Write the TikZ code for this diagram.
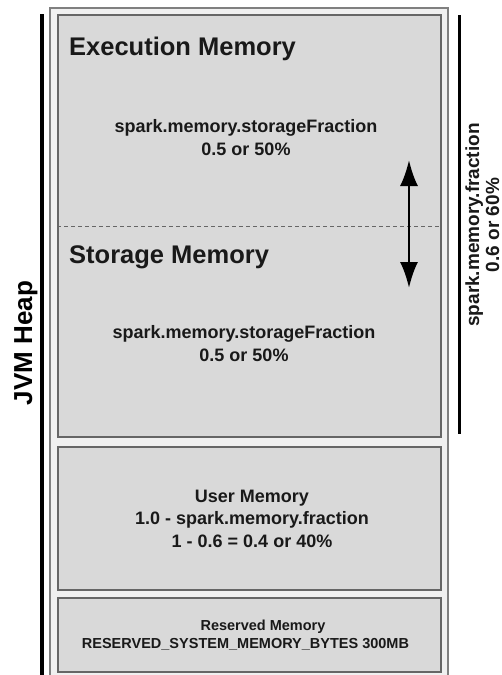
\documentclass[tikz,border=0pt]{standalone}
\usepackage{fontspec}
\setmainfont{Liberation Sans}
\usetikzlibrary{arrows.meta}

\def \boxwidth {383pt}
\def \boxmidx {249.5}

\tikzset{
  membox/.style={draw=black!60, fill=black!15, line width=1.5pt, inner sep=0pt, minimum width=\boxwidth},
  memtitle/.style={font=\bfseries\fontsize{25.5}{30}\selectfont, inner sep=0pt, text=black!90},
  memtext/.style={font=\bfseries\fontsize{18}{22.5}\selectfont, align=center, inner sep=0pt, text=black!90},
  smalltext/.style={font=\bfseries\fontsize{14.5}{18}\selectfont, inner sep=0pt, text=black!90}
}

\begin{document}
\begin{tikzpicture}[x=1pt, y=-1pt]
\useasboundingbox (0,0) rectangle (502,675);
\clip (0,0) rectangle (502,675);
\fill[white] (0,0) rectangle (502,675);
\draw[black!50, fill=black!6, line width=1.2pt] (50,8) rectangle (448,690); % heap frame
\draw[line width=3.5pt] (42,14) -- (42,690); % jvm heap bar
\draw[line width=3pt] (459,15) -- (459,434); % memory fraction bar
\node[membox, minimum height=422pt] (unified) at (\boxmidx,226) {};
\node[membox, minimum height=143pt] (user) at (\boxmidx,518.5) {};
\node[membox, minimum height=74pt] (reserved) at (\boxmidx,635) {};
\draw[black!60, line width=0.8pt, dash pattern=on 4pt off 3pt] (unified.west) -- (unified.east);
\coordinate (up) at (409,160);
\coordinate (down) at (409,288);
\draw[<->, >={Latex[length=26pt,width=18pt]}, line width=2.5pt] (up) -- (down);
\node[memtitle, anchor=base west] (exectitle) at (69,55) {Execution Memory};
\node[memtext, anchor=base] (execfrac) at (246,155) {spark.memory.storageFraction\\0.5 or 50\%};
\node[memtitle, anchor=base west] (storetitle) at (69,263) {Storage Memory};
\node[memtext, anchor=base] (storefrac) at (244,361) {spark.memory.storageFraction\\0.5 or 50\%};
\node[memtext, anchor=base] (usertext) at (252,547) {User Memory\\1.0 - spark.memory.fraction\\1 - 0.6 = 0.4 or 40\%};
\node[smalltext, anchor=base] (restitle) at (263,630) {Reserved Memory};
\node[smalltext, anchor=base] (resbytes) at (245.5,648) {RESERVED\_SYSTEM\_MEMORY\_BYTES 300MB};
\node[font=\bfseries\fontsize{26}{30}\selectfont, inner sep=0pt, rotate=90, anchor=base] (jvm) at (32,343) {JVM Heap};
\node[memtext, font=\bfseries\fontsize{19}{20}\selectfont, rotate=90, anchor=base] (fraction) at (499,225) {spark.memory.fraction\\0.6 or 60\%};
\end{tikzpicture}
\end{document}
